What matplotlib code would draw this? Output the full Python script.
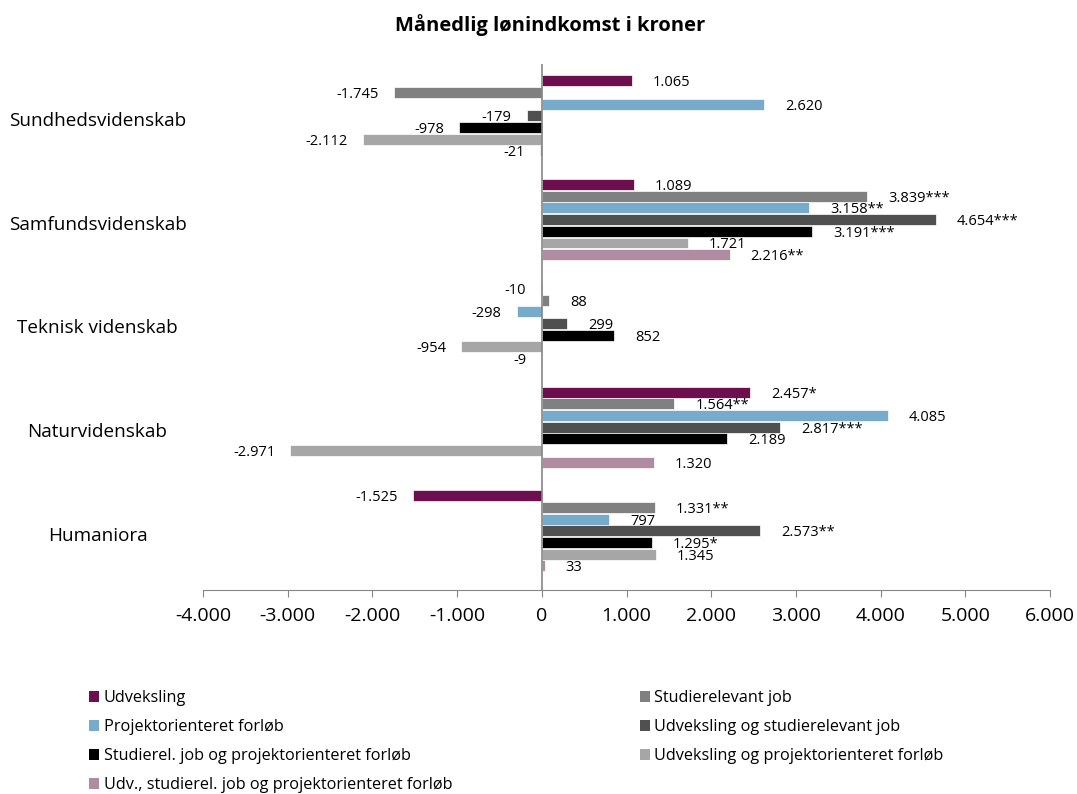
import matplotlib
matplotlib.use("Agg")
import matplotlib.pyplot as plt
import matplotlib.transforms as mtransforms
from matplotlib.patches import Patch
import numpy as np

plt.rcParams['font.family'] = ['Open Sans', 'DejaVu Sans']

categories = ["Sundhedsvidenskab", "Samfundsvidenskab", "Teknisk videnskab",
              "Naturvidenskab", "Humaniora"]
series_names = ["Udveksling", "Studierelevant job", "Projektorienteret forløb",
                "Udveksling og studierelevant job",
                "Studierel. job og projektorienteret forløb",
                "Udveksling og projektorienteret forløb",
                "Udv., studierel. job og projektorienteret forløb"]
udveksling = [1065, 1089, -10, 2457, -1525]
studierelevant = [-1745, 3839, 88, 1564, 1331]
projekt = [2620, 3158, -298, 4085, 797]
udv_studierel = [-179, 4654, 299, 2817, 2573]
studierel_projekt = [-978, 3191, 852, 2189, 1295]
udv_projekt = [-2112, 1721, -954, -2971, 1345]
udv_studierel_projekt = [-21, 2216, -9, 1320, 33]
# significance marks per series, per category
stars_udveksling = ["", "", "", "*", ""]
stars_studierelevant = ["", "***", "", "**", "**"]
stars_projekt = ["", "**", "", "", ""]
stars_udv_studierel = ["", "***", "", "***", "**"]
stars_studierel_projekt = ["", "***", "", "", "*"]
stars_udv_projekt = ["", "", "", "", ""]
stars_udv_studierel_projekt = ["", "**", "", "", ""]

series_values = [udveksling, studierelevant, projekt, udv_studierel,
                 studierel_projekt, udv_projekt, udv_studierel_projekt]
series_stars = [stars_udveksling, stars_studierelevant, stars_projekt,
                stars_udv_studierel, stars_studierel_projekt, stars_udv_projekt,
                stars_udv_studierel_projekt]
colors = ["#6D0F4E", "#808080", "#77ABCB", "#505050", "#000000", "#A6A6A6", "#B08CA0"]
xticks = [-4000, -3000, -2000, -1000, 0, 1000, 2000, 3000, 4000, 5000, 6000]


def fmt(v):
    s = f"{abs(v):,}".replace(",", ".")
    return ("-" if v < 0 else "") + s


fig = plt.figure(figsize=(10.77, 7.94), dpi=100)
ax_bottom = 1 - 590 / 794
ax_top = 1 - 64 / 794
ax = fig.add_axes([0.1885, ax_bottom, 0.7865, ax_top - ax_bottom])

n_cat = len(categories)
n_ser = len(series_values)
slot = 0.1125
for j, vals in enumerate(series_values):
    ys = np.arange(n_cat) + (j - (n_ser - 1) / 2) * slot
    ax.barh(ys, vals, height=slot * 0.94, color=colors[j], edgecolor="white",
            linewidth=0.5, zorder=2)
    for i, v in enumerate(vals):
        txt = fmt(v) + series_stars[j][i]
        if v >= 0:
            off = mtransforms.offset_copy(ax.transData, fig=fig, x=21, y=-2, units='dots')
            ax.text(v, ys[i], txt, transform=off, ha='left', va='center', fontsize=10.5)
        else:
            off = mtransforms.offset_copy(ax.transData, fig=fig, x=-15, y=-2, units='dots')
            ax.text(v, ys[i], txt, transform=off, ha='right', va='center', fontsize=10.5)

ax.set_ylim(4.569, -0.5)
ax.set_xlim(-4000, 6000)
ax.set_xticks(xticks)
ax.set_xticklabels([fmt(t) for t in xticks], fontsize=14)
ax.tick_params(axis='x', direction='out', length=5, color='#868686', pad=7)
ax.set_yticks([])
for s in ['top', 'right', 'left']:
    ax.spines[s].set_visible(False)
ax.spines['bottom'].set_color('#868686')
ax.axvline(0, color='#868686', linewidth=1.2, zorder=3)

trans = mtransforms.offset_copy(
    mtransforms.blended_transform_factory(fig.transFigure, ax.transData),
    fig=fig, x=0, y=-5, units='dots')
for i, c in enumerate(categories):
    ax.text(0.0905, i, c, transform=trans, ha='center', va='center', fontsize=13.6)

fig.text(0.511, 0.969, "Månedlig lønindkomst i kroner", ha='center', va='center',
         fontsize=14.5, fontweight='bold')

handles = [Patch(facecolor=colors[j], edgecolor='none', label=series_names[j])
           for j in range(n_ser)]
left_idx = [0, 2, 4, 6]
right_idx = [1, 3, 5]
kw = dict(frameon=False, fontsize=11.7, handlelength=0.62, handleheight=0.62,
          handletextpad=0.25, labelspacing=0.8, borderaxespad=0, borderpad=0)
leg1 = fig.legend([handles[k] for k in left_idx], [series_names[k] for k in left_idx],
                  loc='upper left', bbox_to_anchor=(0.083, 1 - 690 / 794), **kw)
leg2 = fig.legend([handles[k] for k in right_idx], [series_names[k] for k in right_idx],
                  loc='upper left', bbox_to_anchor=(0.594, 1 - 690 / 794), **kw)

fig.savefig("out.png", dpi=100)
